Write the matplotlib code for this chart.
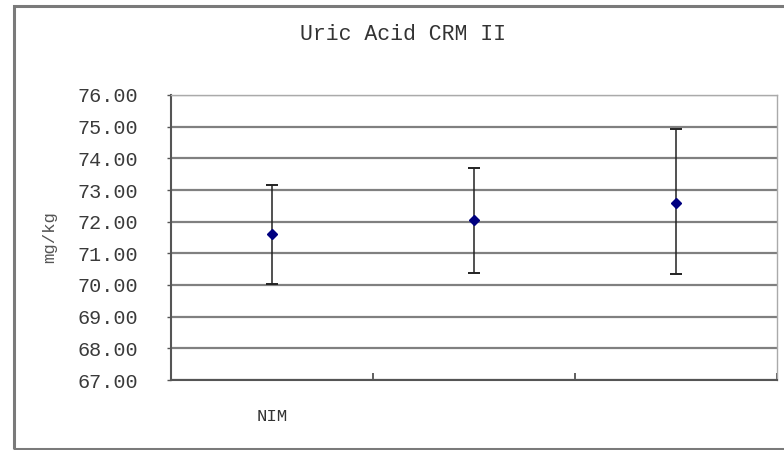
import matplotlib
matplotlib.use("Agg")
import matplotlib.pyplot as plt
from matplotlib.patches import Rectangle
from matplotlib.ticker import FixedLocator

# Data
categories = ["NIM", "", ""]
means = [71.61, 72.04, 72.60]
err_low = [1.58, 1.66, 2.26]
err_high = [1.54, 1.67, 2.32]
yticks = [67, 68, 69, 70, 71, 72, 73, 74, 75, 76]
title = "Uric Acid CRM II"
ylabel = "mg/kg"

plt.rcParams['font.family'] = ['Liberation Mono', 'DejaVu Sans Mono']

fig = plt.figure(figsize=(7.84, 4.5), dpi=100)
ax = fig.add_axes([171/784, 1-380/450, (777-171)/784, (380-95)/450])

x = list(range(len(means)))
ax.errorbar(x, means, yerr=[err_low, err_high], fmt='D', color='#000080',
            markersize=5, ecolor='#222222', elinewidth=1.1, capsize=4.5,
            capthick=1.4, zorder=3)

ax.set_xlim(-0.5, len(means) - 0.5)
ax.set_ylim(min(yticks), max(yticks))
ax.set_yticks(yticks)
ax.set_yticklabels([f"{v:.2f}" for v in yticks], fontsize=14.5, color='#3a3a3a')
ax.yaxis.grid(True, color='#808080', linewidth=1.6)
ax.set_axisbelow(True)

ax.set_xticks(x)
ax.set_xticklabels(categories, fontsize=12.5, color='#333333')
ax.tick_params(axis='x', which='major', length=0, pad=21)
ax.xaxis.set_minor_locator(FixedLocator([i + 0.5 for i in x]))
ax.tick_params(axis='x', which='minor', direction='in', length=5, width=1.2, color='#444444')
ax.tick_params(axis='y', length=3, width=1.0, color='#555555', pad=21)

for s in ['left', 'bottom']:
    ax.spines[s].set_color('#555555')
    ax.spines[s].set_linewidth(1.5)
for s in ['top', 'right']:
    ax.spines[s].set_color('#aaaaaa')
    ax.spines[s].set_linewidth(1.0)

ax.set_ylabel(ylabel, fontsize=12.5, color='#555555')
ax.yaxis.set_label_coords(-0.188, 0.5)

fig.text(403/784, 1-35/450, title, ha='center', va='center', fontsize=15.5, color='#333333')

fig.patches.append(Rectangle((14/784, 1/450), 1.2, 443/450, transform=fig.transFigure,
                             fill=False, edgecolor='#7a7a7a', linewidth=2.2))

fig.savefig("out.png", dpi=100, facecolor='white')
